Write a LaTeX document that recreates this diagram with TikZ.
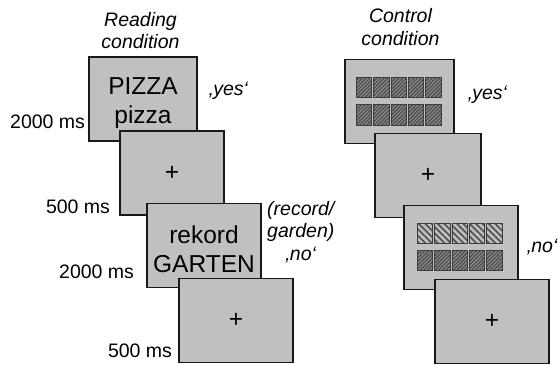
\documentclass[tikz,border=0pt]{standalone}
\usepackage{fontspec}
\setmainfont{Liberation Sans}
\usepackage{xcolor}
\definecolor{screen}{RGB}{192,192,192}
\definecolor{ink}{RGB}{25,25,25}
\definecolor{tilebg}{RGB}{78,78,78}
\definecolor{tilestripe}{RGB}{150,150,150}
\definecolor{tilepale}{RGB}{190,190,190}
\definecolor{tileedge}{RGB}{60,60,60}
\usepackage{tikz}
\usetikzlibrary{positioning,patterns.meta}
\newcommand{\padtop}{\rule{0pt}{26pt}}
\tikzset{
  slide/.style={draw=ink, fill=screen, line width=1.6pt, minimum height=84pt,
    inner sep=0pt, align=center, font=\fontsize{24.5}{29}\selectfont},
  note/.style={inner sep=0pt, font=\fontsize{19.5}{22.5}\selectfont\itshape},
  dur/.style={inner sep=0pt, anchor=base east, font=\fontsize{19.5}{22.5}\selectfont},
  darktile/.style={draw=tileedge, line width=0.6pt, preaction={fill=tilebg},
    pattern={Lines[angle=45,distance=2.6pt,line width=0.9pt]}, pattern color=tilestripe},
  lighttile/.style={draw=tileedge, line width=0.6pt, preaction={fill=tilepale},
    pattern={Lines[angle=-45,distance=4.5pt,line width=1.6pt]}, pattern color=tilebg},
}

\begin{document}
\begin{tikzpicture}[x=1pt,y=1pt]
\path[use as bounding box, fill=white] (0,0) rectangle (558,-365);

\node[slide, minimum width=108pt] (L1) at (143,-99) {\padtop PIZZA\\pizza};
\node[slide, minimum width=104pt] (L2) at (172,-173) {+};
\node[slide, minimum width=114pt] (L3) at (204,-245.5) {\padtop rekord\\GARTEN};
\node[slide, minimum width=114pt] (L4) at (236,-320.5) {+};

\node[slide, minimum width=109pt] (R1) at (399.5,-101.5) {};
\foreach \i in {0,...,4} {
  \path[darktile] ([shift={(-43.5+17.4*\i,24.5)}]R1.center) rectangle ++(15.4,-20);
  \path[darktile] ([shift={(-43.5+17.4*\i,-2.5)}]R1.center) rectangle ++(15.4,-21);
}
\node[slide, minimum width=106pt] (R2) at (428,-175.5) {+};
\node[slide, minimum width=114pt] (R3) at (461,-247.5) {};
\foreach \i in {0,...,4} {
  \path[lighttile] ([shift={(-44+17.4*\i,24.5)}]R3.center) rectangle ++(15.4,-20);
  \path[darktile] ([shift={(-44+17.4*\i,-2.5)}]R3.center) rectangle ++(15.4,-20);
}
\node[slide, minimum width=114pt] (R4) at (492,-321.5) {+};

\node[note, align=center, anchor=south] (readhead) at ([xshift=-2.5pt,yshift=7pt]L1.north) {Reading\\condition};
\node[note, align=center, anchor=south] (ctrlhead) at ([xshift=1pt,yshift=13pt]R1.north) {Control\\condition};

\node[note, anchor=base west] (yesL) at ([shift={(11pt,-39pt)}]L1.north east) {‚yes‘};
\node[note, align=center, anchor=north] (noL) at ([shift={(39pt,2pt)}]L3.north east) {(record/\\garden)\\‚no‘};
\node[note, anchor=base west] (yesR) at ([shift={(13pt,-41pt)}]R1.north east) {‚yes‘};
\node[note, anchor=base west] (noR) at ([shift={(8pt,-48pt)}]R3.north east) {‚no‘};

\node[dur] (t1) at ([shift={(-3pt,13pt)}]L1.south west) {2000 ms};
\node[dur] (t2) at ([shift={(-9pt,2pt)}]L2.south west) {500 ms};
\node[dur] (t3) at ([shift={(-12pt,10pt)}]L3.south west) {2000 ms};
\node[dur] (t4) at ([shift={(-6pt,6pt)}]L4.south west) {500 ms};
\end{tikzpicture}
\end{document}
